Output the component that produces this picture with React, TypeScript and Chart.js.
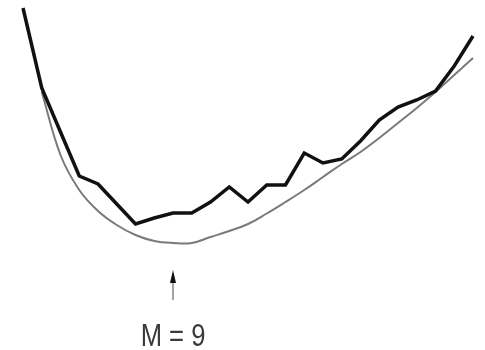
import React, { useEffect, useRef } from "react";
import { Chart, registerables } from "chart.js";

Chart.register(...registerables);

const orders = [1, 2, 3, 4, 5, 6, 7, 8, 9, 10, 11, 12, 13, 14, 15, 16, 17, 18, 19, 20, 21, 22, 23, 24, 25];
const observedError = [96.8, 64.8, 47.2, 29.6, 26.4, 18.4, 10.4, 12.8, 14.8, 14.8, 19.2, 25.2, 19.2, 26, 26, 38.8, 34.8, 36.4, 43.6, 52, 57.2, 60, 63.6, 73.6, 85.6];
const smoothError = [null, 63.2, 38, 24, 15.6, 10, 6, 3.6, 2.8, 2.8, 5.2, 7.6, 10.4, 14.6, 19.2, 24, 29.2, 34.4, 39.2, 44.8, 50.8, 56.8, 63.2, 70, 76.8];
const bestOrder = 9;
const markerLabel = "M = 9";

const markerPlugin = {
  id: "marker",
  afterDraw(chart: any) {
    const ctx = chart.ctx;
    const xs = chart.scales.x;
    const idx = orders.indexOf(bestOrder);
    const x = xs.getPixelForValue(idx);
    const top = chart.chartArea.bottom + 20;
    ctx.save();
    ctx.strokeStyle = "#666";
    ctx.lineWidth = 1.2;
    ctx.beginPath();
    ctx.moveTo(x, top + 8);
    ctx.lineTo(x, top + 30);
    ctx.stroke();
    ctx.fillStyle = "#111";
    ctx.beginPath();
    ctx.moveTo(x, top);
    ctx.lineTo(x - 3, top + 13);
    ctx.lineTo(x + 3, top + 13);
    ctx.closePath();
    ctx.fill();
    ctx.translate(x, top + 76);
    ctx.scale(0.8, 1);
    ctx.fillStyle = "#3a3a3a";
    ctx.font = "32px 'Liberation Sans', Arial, sans-serif";
    ctx.textAlign = "center";
    ctx.textBaseline = "alphabetic";
    ctx.fillText(markerLabel, 0, 0);
    ctx.restore();
  },
};

export default function App() {
  const ref = useRef<HTMLCanvasElement>(null);
  useEffect(() => {
    const chart = new Chart(ref.current!, {
      type: "line",
      data: {
        labels: orders,
        datasets: [
          {
            data: smoothError,
            borderColor: "#7a7a7a",
            borderWidth: 2,
            pointRadius: 0,
            tension: 0.4,
            clip: 10,
            order: 2,
          },
          {
            data: observedError,
            borderColor: "#111",
            borderWidth: 3.5,
            pointRadius: 0,
            tension: 0,
            clip: 10,
            order: 1,
          },
        ],
      },
      options: {
        animation: false,
        responsive: false,
        events: [],
        layout: { padding: { left: 23, right: 12, top: 0, bottom: 100 } },
        plugins: { legend: { display: false }, tooltip: { enabled: false } },
        scales: {
          x: { display: false, offset: false },
          y: { display: false, min: 0, max: 100 },
        },
      },
      plugins: [markerPlugin],
    } as any);
    return () => chart.destroy();
  }, []);
  return (
    <div style={{ position: "fixed", left: 0, top: 0, width: 485, height: 350, background: "#fff" }}>
      <canvas ref={ref} width={485} height={350} />
    </div>
  );
}
